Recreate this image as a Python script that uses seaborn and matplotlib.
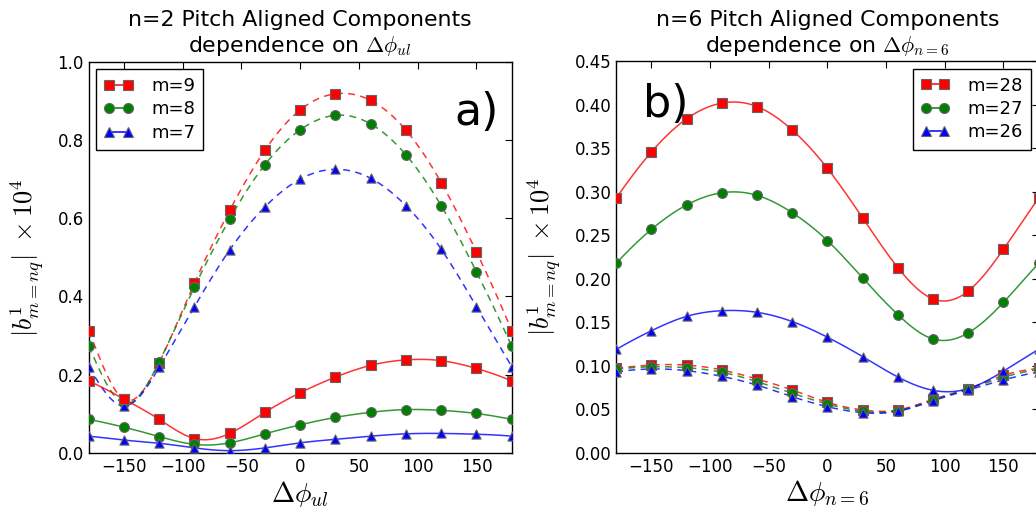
import numpy as np
import pandas as pd
import matplotlib
matplotlib.use("Agg")
import matplotlib.pyplot as plt
from matplotlib.lines import Line2D
import seaborn as sns

# ---------------- data ----------------
phi = [-180, -150, -120, -90, -60, -30, 0, 30, 60, 90, 120, 150, 180]

# panel a) n=2, dependence on delta phi_ul
a_m9_dash = [0.312, 0.137, 0.231, 0.434, 0.620, 0.774, 0.877, 0.918, 0.901, 0.825, 0.691, 0.514, 0.312]
a_m8_dash = [0.273, 0.127, 0.233, 0.424, 0.598, 0.737, 0.826, 0.863, 0.841, 0.762, 0.632, 0.463, 0.273]
a_m7_dash = [0.221, 0.120, 0.219, 0.374, 0.519, 0.629, 0.700, 0.725, 0.702, 0.632, 0.521, 0.374, 0.221]
a_m9_solid = [0.184, 0.138, 0.086, 0.037, 0.050, 0.104, 0.154, 0.194, 0.224, 0.238, 0.236, 0.216, 0.184]
a_m8_solid = [0.086, 0.066, 0.042, 0.022, 0.026, 0.049, 0.072, 0.091, 0.104, 0.111, 0.109, 0.101, 0.086]
a_m7_solid = [0.043, 0.033, 0.025, 0.013, 0.006, 0.013, 0.026, 0.035, 0.043, 0.049, 0.050, 0.048, 0.043]

# panel b) n=6, dependence on delta phi_{n=6}
b_m28_solid = [0.293, 0.346, 0.384, 0.402, 0.398, 0.371, 0.327, 0.270, 0.213, 0.177, 0.186, 0.234, 0.293]
b_m27_solid = [0.218, 0.257, 0.285, 0.299, 0.296, 0.276, 0.244, 0.201, 0.159, 0.131, 0.138, 0.173, 0.218]
b_m26_solid = [0.119, 0.1405, 0.157, 0.1635, 0.1616, 0.151, 0.133, 0.1107, 0.0873, 0.072, 0.0739, 0.094, 0.119]
b_m28_dash = [0.0973, 0.101, 0.101, 0.0954, 0.085, 0.0724, 0.0582, 0.0494, 0.0494, 0.0617, 0.0739, 0.0893, 0.0973]
b_m27_dash = [0.096, 0.099, 0.098, 0.0927, 0.082, 0.0686, 0.0563, 0.0479, 0.0486, 0.0609, 0.0739, 0.087, 0.096]
b_m26_dash = [0.093, 0.0965, 0.0946, 0.088, 0.078, 0.0647, 0.0532, 0.0463, 0.0479, 0.060, 0.0724, 0.0839, 0.093]

labels_a = ["m=9", "m=8", "m=7"]
labels_b = ["m=28", "m=27", "m=26"]
colors = ["#ff0000", "#008000", "#0000ff"]
markers = ["s", "o", "^"]


def periodic_spline(x, y, n=721):
    """Smooth periodic cubic spline drawn through the measured points."""
    x = np.asarray(x[:-1], float)
    y = np.asarray(y[:-1], float)
    N = len(x)
    h = x[1] - x[0]
    A = np.zeros((N, N))
    r = np.zeros(N)
    for i in range(N):
        A[i, i] = 4.0
        A[i, (i - 1) % N] = 1.0
        A[i, (i + 1) % N] = 1.0
        r[i] = 6.0 / h ** 2 * (y[(i - 1) % N] - 2 * y[i] + y[(i + 1) % N])
    M = np.linalg.solve(A, r)
    t = np.linspace(x[0], x[0] + N * h, n)
    idx = np.minimum(((t - x[0]) // h).astype(int), N - 1)
    x0 = x[0] + idx * h
    x1 = x0 + h
    i1 = (idx + 1) % N
    s = (M[idx] * (x1 - t) ** 3 / (6 * h) + M[i1] * (t - x0) ** 3 / (6 * h)
         + (y[idx] / h - M[idx] * h / 6) * (x1 - t)
         + (y[i1] / h - M[i1] * h / 6) * (t - x0))
    return t, s


sns.set_style("white")
plt.rcParams["font.family"] = ["DejaVu Sans"]
plt.rcParams["mathtext.fontset"] = "cm"
plt.rcParams["xtick.direction"] = "in"
plt.rcParams["ytick.direction"] = "in"
plt.rcParams["xtick.top"] = True
plt.rcParams["ytick.right"] = True
plt.rcParams["xtick.major.size"] = 5
plt.rcParams["ytick.major.size"] = 5
plt.rcParams["axes.edgecolor"] = "black"
plt.rcParams["axes.linewidth"] = 1.0
plt.rcParams["text.color"] = "black"
plt.rcParams["axes.labelcolor"] = "black"
plt.rcParams["xtick.color"] = "black"
plt.rcParams["ytick.color"] = "black"

fig = plt.figure(figsize=(10.36, 5.13), dpi=100)
axA = fig.add_axes([88.7 / 1036, 60 / 513, 423 / 1036, 391.3 / 513])
axB = fig.add_axes([616.3 / 1036, 60 / 513, 422.3 / 1036, 391.7 / 513])

DASH = (0, (4.5, 3.5))


def draw(ax, series, style):
    for vals, c, mk in zip(series, colors, markers):
        t, s = periodic_spline(phi, vals)
        df = pd.DataFrame({"x": t, "y": s})
        sns.lineplot(data=df, x="x", y="y", ax=ax, color=c, linewidth=1.1,
                     alpha=0.8, linestyle=style, sort=False, estimator=None)
        pts = pd.DataFrame({"x": phi, "y": vals})
        sns.scatterplot(data=pts, x="x", y="y", ax=ax, color=c, marker=mk,
                        s=44 if mk != "o" else 50, edgecolor="#666666",
                        linewidth=0.8, zorder=3, clip_on=True)


draw(axA, [a_m9_dash, a_m8_dash, a_m7_dash], DASH)
draw(axA, [a_m9_solid, a_m8_solid, a_m7_solid], "-")
draw(axB, [b_m28_dash, b_m27_dash, b_m26_dash], DASH)
draw(axB, [b_m28_solid, b_m27_solid, b_m26_solid], "-")

ylab = r"$|b^{1}_{m=nq}|\;\times 10^4$"
for ax in (axA, axB):
    ax.set_xlim(-180, 180)
    ax.set_xticks([-150, -100, -50, 0, 50, 100, 150])
    ax.tick_params(labelsize=12, width=0.8, colors="black")
    ax.set_ylabel(ylab, fontsize=19, labelpad=8)
    for sp in ax.spines.values():
        sp.set_visible(True)

axA.set_ylim(0, 1.0)
axA.set_yticks([0.0, 0.2, 0.4, 0.6, 0.8, 1.0])
axA.set_yticklabels(["0.0", "0.2", "0.4", "0.6", "0.8", "1.0"])
axB.set_ylim(0, 0.45)
axB.set_yticks([0.0, 0.05, 0.10, 0.15, 0.20, 0.25, 0.30, 0.35, 0.40, 0.45])
axB.set_yticklabels(["0.00", "0.05", "0.10", "0.15", "0.20", "0.25", "0.30", "0.35", "0.40", "0.45"])

axA.set_xlabel(r"$\Delta\phi_{ul}$", fontsize=20, labelpad=2)
axB.set_xlabel(r"$\Delta\phi_{n=6}$", fontsize=20, labelpad=2)
axA.set_title("n=2 Pitch Aligned Components\n" + r"dependence on $\Delta\phi_{ul}$",
              fontsize=15.8, pad=7)
axB.set_title("n=6 Pitch Aligned Components\n" + r"dependence on $\Delta\phi_{n=6}$",
              fontsize=15.8, pad=7)

axA.text(131, 0.838, "a)", fontsize=32, ha="left", va="baseline")
axB.text(-157, 0.386, "b)", fontsize=32, ha="left", va="baseline")


def handles(labels):
    return [Line2D([0], [0], color=c, marker=mk, linestyle="-", linewidth=1.1,
                   markersize=7 if mk != "o" else 7.2, markeredgecolor="#666666",
                   markeredgewidth=0.8, label=l)
            for c, mk, l in zip(colors, markers, labels)]


for ax, labels, loc in ((axA, labels_a, "upper left"), (axB, labels_b, "upper right")):
    leg = ax.legend(handles=handles(labels), loc=loc, fontsize=13, numpoints=2,
                    frameon=True, fancybox=False, framealpha=1, edgecolor="black",
                    handlelength=1.6, handletextpad=1.0, labelspacing=0.3,
                    borderpad=0.45, borderaxespad=0.4)
    leg.get_frame().set_linewidth(1.0)

fig.savefig("out.png", dpi=100)
